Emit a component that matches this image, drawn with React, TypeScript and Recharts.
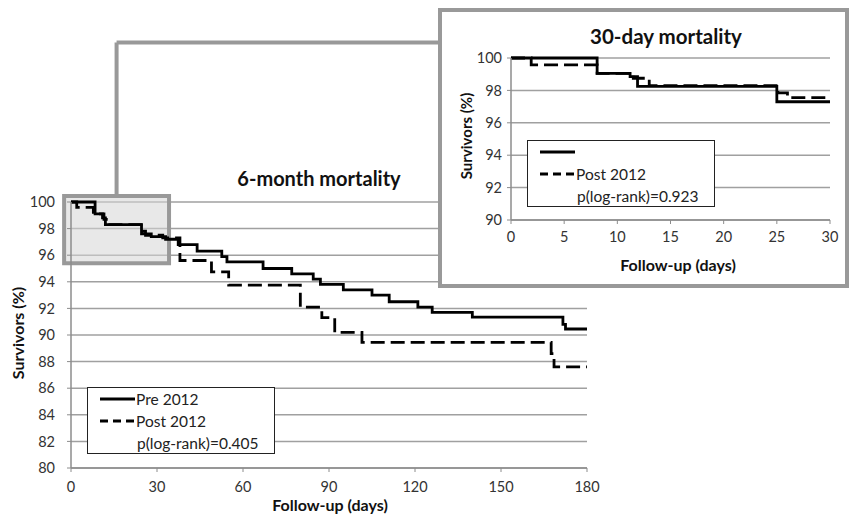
import React from 'react';
import { LineChart, Line, XAxis, YAxis, CartesianGrid, ReferenceArea, ReferenceLine, Legend } from 'recharts';

const FONT = 'Lato, "Open Sans", sans-serif';

// 6-month survival (Kaplan-Meier steps)
const sixMonthPreDays = [0, 8.4, 11, 12, 24.6, 28, 33, 37.4, 44, 52.6, 54.4, 67, 77, 84.5, 87, 95, 105, 111, 121, 126, 140, 171.6, 172.5, 180];
const sixMonthPreSurv = [100, 99.1, 98.8, 98.3, 97.6, 97.4, 97.2, 96.8, 96.3, 95.9, 95.5, 95.0, 94.6, 94.2, 93.8, 93.4, 93.0, 92.5, 92.1, 91.7, 91.35, 90.8, 90.45, 90.45];
const sixMonthPostDays = [0, 2, 7.8, 11.5, 13, 25, 26, 32, 38, 49, 55, 80, 87.5, 92, 101.5, 167.5, 168.5, 180];
const sixMonthPostSurv = [100, 99.6, 99.1, 98.7, 98.3, 97.8, 97.5, 97.3, 95.6, 94.75, 93.75, 92.1, 91.3, 90.2, 89.45, 88.6, 87.6, 87.6];

// 30-day survival
const thirtyDayPreDays = [0, 8.1, 11.2, 11.9, 25, 30];
const thirtyDayPreSurv = [100, 99.05, 98.85, 98.25, 97.3, 97.3];
const thirtyDayPostDays = [0, 1.9, 8.1, 11.5, 13, 25.1, 26, 30];
const thirtyDayPostSurv = [100, 99.57, 99.05, 98.75, 98.3, 97.85, 97.55, 97.55];

const sixMonthXTicks = [0, 30, 60, 90, 120, 150, 180];
const sixMonthYTicks = [80, 82, 84, 86, 88, 90, 92, 94, 96, 98, 100];
const thirtyDayXTicks = [0, 5, 10, 15, 20, 25, 30];
const thirtyDayYTicks = [90, 92, 94, 96, 98, 100];

const sixMonthLabels = ['Pre 2012', 'Post 2012'];
const thirtyDayLabels = ['', 'Post 2012'];
const sixMonthP = 'p(log-rank)=0.405';
const thirtyDayP = 'p(log-rank)=0.923';

const toPoints = (days: number[], surv: number[]) => days.map((d, i) => ({ day: d, survival: surv[i] }));

const sixPre = toPoints(sixMonthPreDays, sixMonthPreSurv);
const sixPost = toPoints(sixMonthPostDays, sixMonthPostSurv);
const thirtyPre = toPoints(thirtyDayPreDays, thirtyDayPreSurv);
const thirtyPost = toPoints(thirtyDayPostDays, thirtyDayPostSurv);

const GRID = '#a0a0a0';
const AXIS = '#8c8c8c';
const FRAME = '#999999';
const DASH = '14 6';
const LINE_W = 2.8;

const Title = ({ x, y, text, size, rotate }: { x: number; y: number; text: string; size: number; rotate?: boolean }) => (
    <div
        style={{
            position: 'absolute',
            left: x,
            top: y,
            transform: `translate(-50%, -50%)${rotate ? ' rotate(-90deg)' : ''}`,
            whiteSpace: 'nowrap',
            fontWeight: 700,
            fontSize: size,
            color: '#111',
            lineHeight: 1,
        }}
    >
        {text}
    </div>
);

const LegendBox = ({ labels, pValue }: { labels: string[]; pValue: string }) => {
    const row = (content: React.ReactNode, i: number) => (
        <div key={i} style={{ position: 'absolute', left: 12, top: i * 22, height: 22, display: 'flex', alignItems: 'center' }}>
            {content}
        </div>
    );
    return (
        <div
            style={{
                position: 'relative',
                width: 188,
                height: 67,
                boxSizing: 'border-box',
                border: '1.5px solid #222',
                background: '#fff',
                fontFamily: FONT,
                fontSize: 15.5,
                color: '#222',
            }}
        >
            {labels.map((lab, i) =>
                row(
                    <>
                        <svg width={35} height={6}>
                            <line x1={0} y1={3} x2={35} y2={3} stroke="#000" strokeWidth={3} strokeDasharray={i === 1 ? '8 5' : undefined} />
                        </svg>
                        <span style={{ marginLeft: 1 }}>{lab}</span>
                    </>,
                    i
                )
            )}
            {row(<span style={{ marginLeft: 37 }}>{pValue}</span>, 2)}
        </div>
    );
};

const tickStyle = { fontSize: 14.5, fill: '#333', fontFamily: FONT };

const App = () => {
    return (
        <div style={{ position: 'absolute', left: 0, top: 0, width: 849, height: 517, background: '#fff', fontFamily: FONT, overflow: 'hidden' }}>
            <LineChart width={849} height={517} margin={{ top: 202, right: 262, bottom: 19, left: 31 }} style={{ position: 'absolute', left: 0, top: 0 }}>
                <CartesianGrid vertical={false} stroke={GRID} strokeWidth={1.5} />
                <XAxis
                    dataKey="day"
                    type="number"
                    domain={[0, 180]}
                    ticks={sixMonthXTicks}
                    height={30}
                    tickSize={4}
                    tickMargin={10}
                    tick={tickStyle}
                    stroke={AXIS}
                    axisLine={{ stroke: AXIS, strokeWidth: 1.5 }}
                />
                <YAxis
                    type="number"
                    domain={[80, 100]}
                    ticks={sixMonthYTicks}
                    width={40}
                    tickSize={4}
                    tickMargin={12}
                    tick={tickStyle}
                    stroke={AXIS}
                    axisLine={{ stroke: AXIS, strokeWidth: 1.5 }}
                />
                <ReferenceArea x1={-2.4} x2={34.2} y1={95.4} y2={100.45} ifOverflow="visible" fill="#d6d6d6" fillOpacity={0.55} stroke={FRAME} strokeWidth={4} />
                <ReferenceLine segment={[{ x: 15.9, y: 100.45 }, { x: 15.9, y: 112 }]} ifOverflow="visible" stroke={FRAME} strokeWidth={4} />
                <ReferenceLine segment={[{ x: 15.9, y: 112 }, { x: 130, y: 112 }]} ifOverflow="visible" stroke={FRAME} strokeWidth={4} />
                <Line data={sixPre} dataKey="survival" name="Pre 2012" type="stepAfter" stroke="#000" strokeWidth={LINE_W} dot={false} isAnimationActive={false} />
                <Line data={sixPost} dataKey="survival" name="Post 2012" type="stepAfter" stroke="#000" strokeWidth={LINE_W} strokeDasharray={DASH} dot={false} isAnimationActive={false} />
                <Legend
                    layout="horizontal"
                    verticalAlign="middle"
                    align="center"
                    wrapperStyle={{ left: 87, top: 387, width: 188, height: 67 }}
                    content={() => <LegendBox labels={sixMonthLabels} pValue={sixMonthP} />}
                />
            </LineChart>
            <Title x={319} y={178} text="6-month mortality" size={20} />
            <Title x={18} y={333} text="Survivors (%)" size={16} rotate />
            <Title x={330} y={505} text="Follow-up (days)" size={16} />

            <div
                style={{
                    position: 'absolute',
                    left: 438,
                    top: 8,
                    width: 411,
                    height: 280,
                    boxSizing: 'border-box',
                    border: `4px solid ${FRAME}`,
                    background: '#fff',
                }}
            >
                <LineChart width={403} height={272} margin={{ top: 46, right: 15, bottom: 34, left: 34 }}>
                    <CartesianGrid vertical={false} stroke={GRID} strokeWidth={1.5} />
                    <XAxis
                        dataKey="day"
                        type="number"
                        domain={[0, 30]}
                        ticks={thirtyDayXTicks}
                        height={30}
                        tickSize={4}
                        tickMargin={8}
                        tick={tickStyle}
                        stroke={AXIS}
                        axisLine={{ stroke: AXIS, strokeWidth: 1.5 }}
                    />
                    <YAxis
                        type="number"
                        domain={[90, 100]}
                        ticks={thirtyDayYTicks}
                        width={35}
                        tickSize={4}
                        tickMargin={5}
                        tick={tickStyle}
                        stroke={AXIS}
                        axisLine={{ stroke: AXIS, strokeWidth: 1.5 }}
                    />
                    <Line data={thirtyPre} dataKey="survival" name="Pre 2012" type="stepAfter" stroke="#000" strokeWidth={LINE_W} dot={false} isAnimationActive={false} />
                    <Line data={thirtyPost} dataKey="survival" name="Post 2012" type="stepAfter" stroke="#000" strokeWidth={LINE_W} strokeDasharray={DASH} dot={false} isAnimationActive={false} />
                    <Legend
                        layout="horizontal"
                        verticalAlign="middle"
                        align="center"
                        wrapperStyle={{ left: 85, top: 128, width: 188, height: 67 }}
                        content={() => <LegendBox labels={thirtyDayLabels} pValue={thirtyDayP} />}
                    />
                </LineChart>
                <Title x={224} y={24} text="30-day mortality" size={20.5} />
                <Title x={24} y={124} text="Survivors (%)" size={15} rotate />
                <Title x={236} y={253} text="Follow-up (days)" size={16} />
            </div>
        </div>
    );
};

export default App;
